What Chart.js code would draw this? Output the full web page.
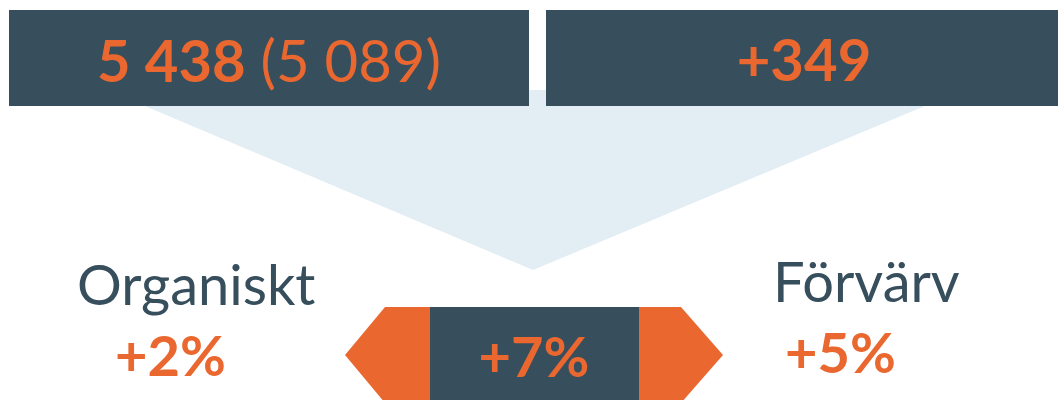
<!DOCTYPE html>
<html lang="sv">
  <head>
    <meta charset="UTF-8" />
    <title>Organiskt och förvärv</title>
    <script src="https://cdn.jsdelivr.net/npm/chart.js"></script>
    <style>
      body {
        margin: 0;
        background: #fff;
      }
      .chart-container {
        position: relative;
        width: 1058px;
        height: 400px;
      }
    </style>
  </head>
  <body>
    <div class="chart-container">
      <canvas id="bridgeChart"></canvas>
    </div>

    <script>
      // values
      const totals = [5438, 5089] // this year, last year
      const acquiredChange = [349]
      const growthLabels = ["Organiskt", "Förvärv"]
      const growthPct = [2, 5]
      const totalPct = [7]

      const DARK = "#374e5c"
      const ORANGE = "#ea6830"
      const LIGHT = "#e2edf4"
      const FONT = "Lato, 'Open Sans', sans-serif"

      const fmt = (n) => String(n).replace(/\B(?=(\d{3})+(?!\d))/g, " ")
      const pct = (n) => "+" + n + "%"

      // shapes of the graphic, in the 1058 x 400 frame
      const shapes = [
        { color: DARK, order: 1, pts: [[9, 10], [529, 10], [529, 106], [9, 106]] },
        { color: DARK, order: 1, pts: [[546, 10], [1060, 10], [1060, 106], [546, 106]] },
        { color: DARK, order: 1, pts: [[430, 307], [639, 307], [639, 405], [430, 405]] },
        { color: ORANGE, order: 2, pts: [[345, 355], [385, 307], [681, 307], [723, 355], [681, 403], [385, 403]] },
        { color: LIGHT, order: 3, pts: [[107, 90], [963, 90], [533, 270]] },
      ]

      const datasets = shapes.map((s) => ({
        data: s.pts.concat([s.pts[0]]).map(([x, y]) => ({ x, y })),
        backgroundColor: s.color,
        borderWidth: 0,
        pointRadius: 0,
        fill: "shape",
        order: s.order,
      }))

      const labelsPlugin = {
        id: "labels",
        afterDatasetsDraw(chart) {
          const { ctx, scales } = chart
          const px = (x) => scales.x.getPixelForValue(x)
          const py = (y) => scales.y.getPixelForValue(y)
          ctx.save()
          ctx.textBaseline = "alphabetic"

          // left box: current (last year)
          const boldFont = "bold 58px " + FONT
          const regFont = "58px " + FONT
          const a = fmt(totals[0])
          const b = " (" + fmt(totals[1]) + ")"
          ctx.font = boldFont
          const wa = ctx.measureText(a).width
          ctx.font = regFont
          const wb = ctx.measureText(b).width
          let x0 = px(269) - (wa + wb) / 2
          ctx.fillStyle = ORANGE
          ctx.textAlign = "left"
          ctx.font = boldFont
          ctx.fillText(a, x0, py(82))
          ctx.font = regFont
          ctx.fillText(b, x0 + wa, py(82))

          // right box: acquired
          ctx.font = boldFont
          ctx.textAlign = "center"
          ctx.fillText("+" + fmt(acquiredChange[0]), px(804), py(81))

          // labels
          ctx.textAlign = "left"
          ctx.fillStyle = DARK
          ctx.font = "56px " + FONT
          ctx.fillText(growthLabels[0], px(77), py(305))
          ctx.fillText(growthLabels[1], px(773), py(302))

          ctx.fillStyle = ORANGE
          ctx.font = "bold 56px " + FONT
          ctx.fillText(pct(growthPct[0]), px(115), py(376))
          ctx.fillText(pct(growthPct[1]), px(785), py(373))
          ctx.textAlign = "center"
          ctx.fillText(pct(totalPct[0]), px(534), py(377))
          ctx.restore()
        },
      }

      new Chart(document.getElementById("bridgeChart"), {
        type: "line",
        data: { datasets },
        options: {
          responsive: true,
          maintainAspectRatio: false,
          animation: false,
          layout: { padding: 0 },
          scales: {
            x: { type: "linear", min: 0, max: 1058, display: false },
            y: { type: "linear", min: 0, max: 400, reverse: true, display: false },
          },
          plugins: {
            legend: { display: false },
            tooltip: { enabled: false },
          },
        },
        plugins: [labelsPlugin],
      })
    </script>
  </body>
</html>
